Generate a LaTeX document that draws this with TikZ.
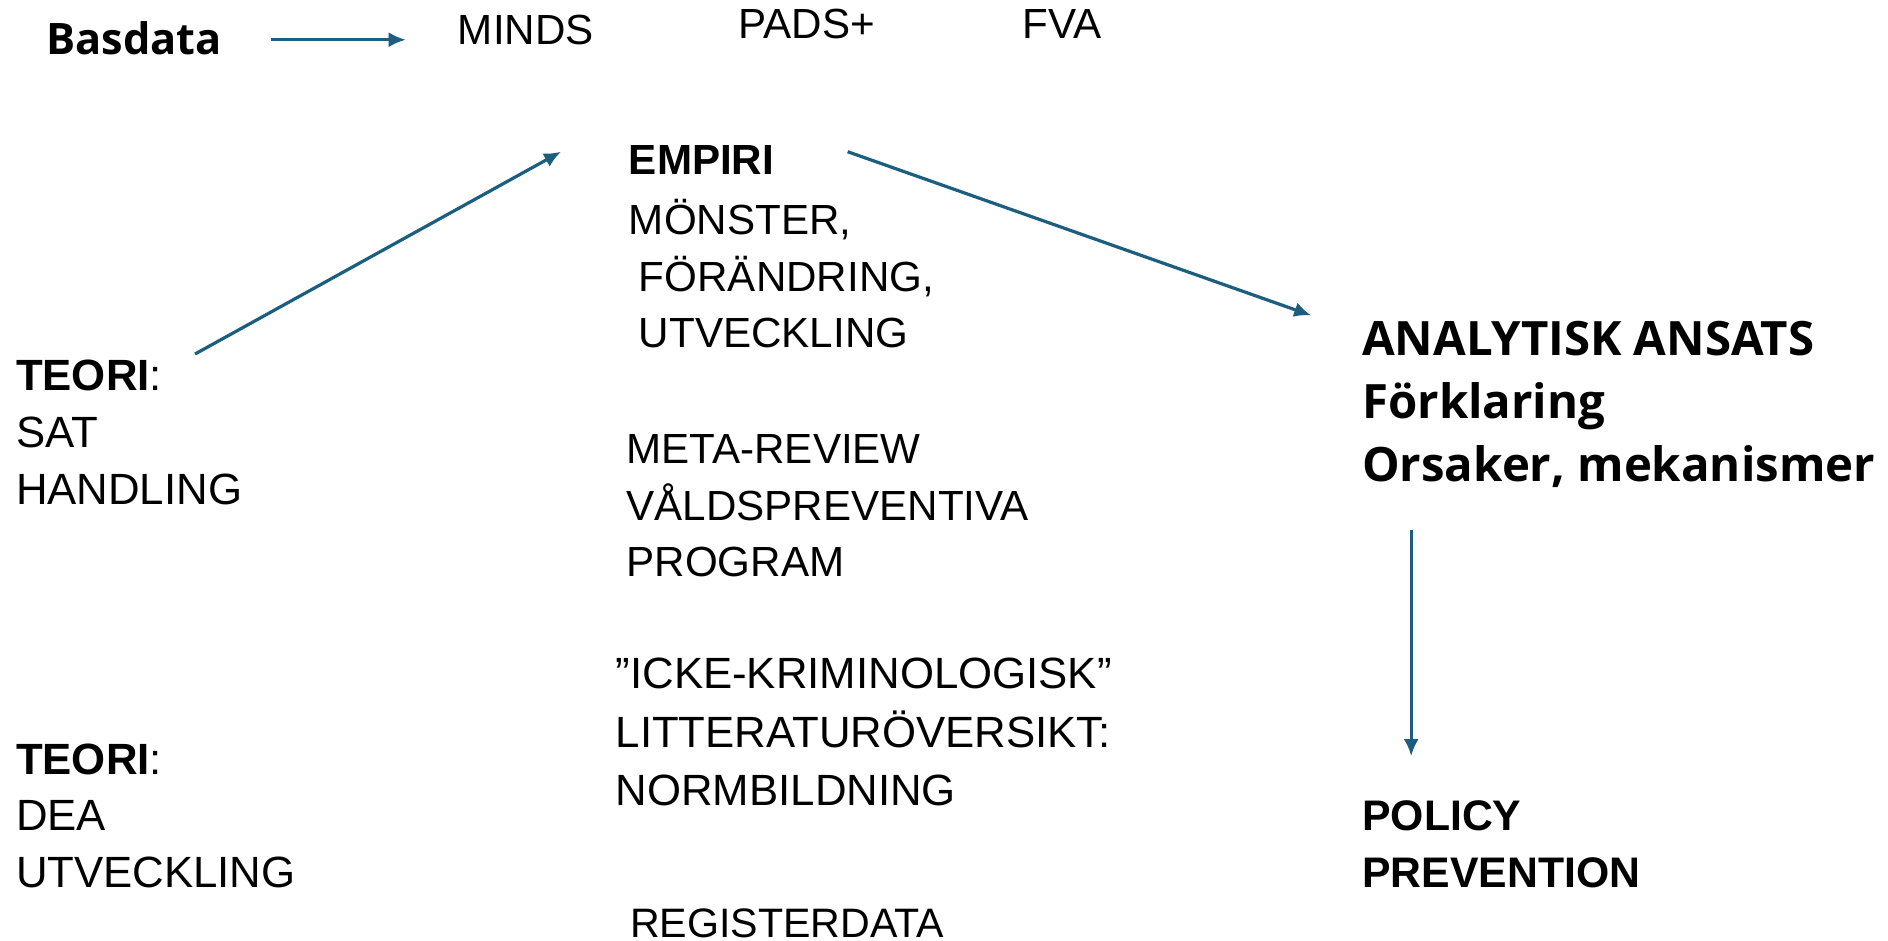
\documentclass[tikz,border=0pt]{standalone}
\usepackage{fontspec}
\setmainfont{Liberation Sans}
\newfontfamily\headfont{Open Sans}
\usetikzlibrary{arrows.meta}
\definecolor{arrowblue}{RGB}{27,94,128}
\begin{document}
\begin{tikzpicture}[x=0.6pt,y=-0.6pt,
    plain_text/.style={anchor=base west,inner sep=0pt,align=left,font=\fontsize{21}{28.2}\selectfont},
    head_text/.style={anchor=base west,inner sep=0pt,align=left,font=\headfont\bfseries\fontsize{23.6}{31.5}\selectfont},
    flow/.style={draw=arrowblue,line width=1.6pt,-{Latex[length=8.5pt,width=7.5pt]}}]
    \useasboundingbox (0,0) rectangle (1568,781);
    % top row
    \node[plain_text,font=\headfont\bfseries\fontsize{21.6}{28}\selectfont] (basdata) at (38,45) {Basdata};
    \node[plain_text] (minds) at (380,37) {MINDS};
    \node[plain_text] (pads) at (613,32) {PADS+};
    \node[plain_text] (fva) at (849,32) {FVA};
    % middle column (anchor = last line)
    \node[plain_text,font=\bfseries\fontsize{21}{28.2}\selectfont] (empiri) at (522,145) {EMPIRI};
    \node[plain_text] (monster) at (522,289) {MÖNSTER,\\\hspace{5pt}FÖRÄNDRING,\\\hspace{5pt}UTVECKLING};
    \node[plain_text] (meta) at (520,479) {META-REVIEW\\VÅLDSPREVENTIVA\\PROGRAM};
    \node[plain_text,font=\fontsize{21.8}{29.1}\selectfont] (icke) at (511,669) {”ICKE-KRIMINOLOGISK”\\LITTERATURÖVERSIKT:\\NORMBILDNING};
    \node[plain_text,font=\fontsize{20.5}{28}\selectfont] (register) at (523,779) {REGISTERDATA};
    % theories
    \node[plain_text,font=\fontsize{21.8}{28.5}\selectfont] (teori_sat) at (13,419) {\textbf{TEORI}:\\SAT\\HANDLING};
    \node[plain_text,font=\fontsize{21.8}{28.2}\selectfont] (teori_dea) at (13,737) {\textbf{TEORI}:\\DEA\\UTVECKLING};
    % right column
    \node[head_text] (analys) at (1131,400) {ANALYTISK ANSATS\\Förklaring\\Orsaker, mekanismer};
    \node[plain_text,font=\bfseries\fontsize{21.3}{28.2}\selectfont] (policy) at (1131,737) {POLICY\\PREVENTION};
    % arrow ends
    \coordinate (basdata_out) at (225,33);
    \coordinate (minds_in) at (337,33);
    \coordinate (teori_out) at (162,294);
    \coordinate (empiri_in) at (466,126);
    \coordinate (empiri_out) at (704,126);
    \coordinate (analys_in) at (1089,262);
    \coordinate (analys_out) at (1172,440);
    \coordinate (policy_in) at (1172,628);
    \draw[flow] (basdata_out) -- (minds_in);
    \draw[flow] (teori_out) -- (empiri_in);
    \draw[flow] (empiri_out) -- (analys_in);
    \draw[flow] (analys_out) -- (policy_in);
\end{tikzpicture}
\end{document}
